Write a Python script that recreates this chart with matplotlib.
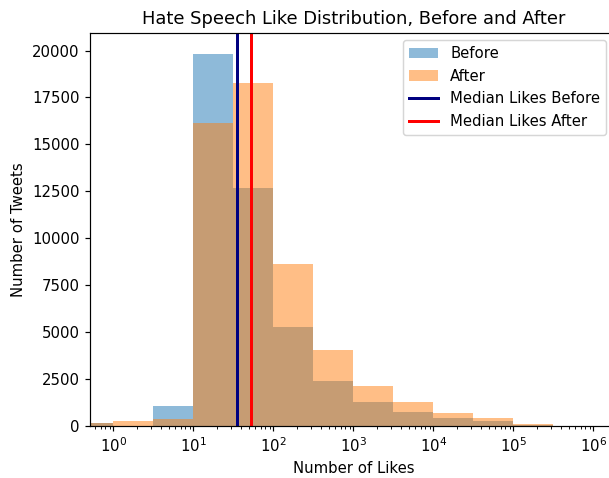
import numpy as np
import matplotlib
matplotlib.use('Agg')
import matplotlib.pyplot as plt

# half-decade bin edges (log10 of likes)
edge_exp = [-0.5, 0.0, 0.5, 1.0, 1.5, 2.0, 2.5, 3.0, 3.5, 4.0, 4.5, 5.0, 5.5, 6.0]
before_counts = [150, 0, 1070, 19820, 12660, 5250, 2400, 1270, 745, 440, 280, 70, 0]
after_counts = [175, 265, 370, 16160, 18290, 8630, 4050, 2130, 1280, 710, 425, 110, 0]
median_before = 35
median_after = 53

DPI = 107.5


def plot_hist(edge_exp, before_counts, after_counts):
    edges = 10 ** np.array(edge_exp)
    centers = np.sqrt(edges[:-1] * edges[1:])
    fig = plt.figure(figsize=(609 / DPI, 478 / DPI), dpi=DPI)
    ax = fig.add_axes([90 / 609, 52 / 478, 528 / 609, 393 / 478])
    ax.hist(centers, bins=edges, weights=before_counts, alpha=0.5, label='Before')
    ax.hist(centers, bins=edges, weights=after_counts, alpha=0.5, label='After')
    ax.axvline(median_before, color='navy', linewidth=2, label='Median Likes Before')
    ax.axvline(median_after, color='red', linewidth=2, label='Median Likes After')
    ax.set_xscale('log')
    ax.set_xlim(10 ** -0.29, 10 ** 6.31)
    ax.set_ylim(0, 20935)
    ax.set_title('Hate Speech Like Distribution, Before and After')
    ax.set_xlabel('Number of Likes')
    ax.set_ylabel('Number of Tweets')
    ax.legend(loc='upper right', bbox_to_anchor=(0.992, 1.0))
    fig.savefig('out.png', dpi=DPI)


if __name__ == '__main__':
    plot_hist(edge_exp, before_counts, after_counts)
